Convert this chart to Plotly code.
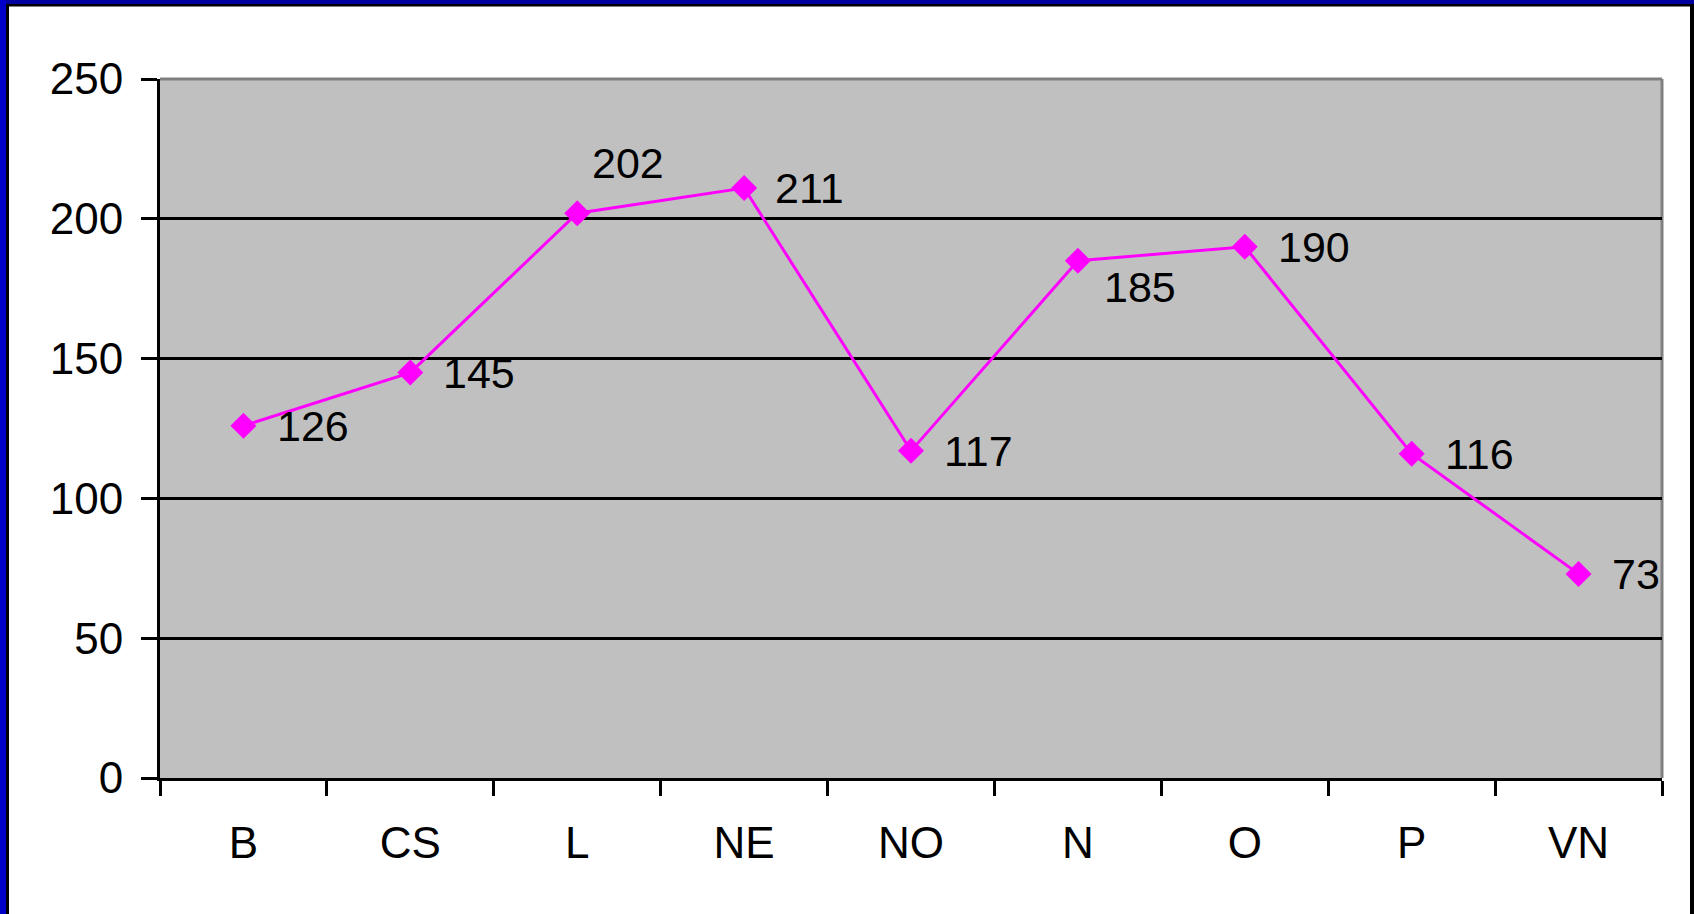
import plotly.graph_objects as go

categories = ["B", "CS", "L", "NE", "NO", "N", "O", "P", "VN"]
values = [126, 145, 202, 211, 117, 185, 190, 116, 73]
y_ticks = [0, 50, 100, 150, 200, 250]

# label offsets in pixels (style)
label_dx = [32, 31, 13, 29, 31, 24, 31, 31, 31]
label_dy = [0, 0, 50, 0, 0, -26, 0, 0, 0]

W, H = 1694, 914
L, R, T, B = 160, 32, 79, 136
PW = W - L - R
PH = H - T - B

def px_x(p):
    return (p - L) / PW

def px_y(p):
    return 1 - (p - T) / PH

FONT = "Liberation Sans, Arial, sans-serif"

fig = go.Figure()
fig.add_trace(go.Scatter(
    x=categories, y=values,
    mode="lines+markers",
    line=dict(color="#FF00FF", width=3),
    marker=dict(symbol="diamond", size=20, color="#FF00FF"),
    cliponaxis=False,
    showlegend=False,
))

annotations = []
for c, v, dx, dy in zip(categories, values, label_dx, label_dy):
    annotations.append(dict(
        x=c, y=v, xref="x", yref="y", text=str(v), showarrow=False,
        xanchor="left", yanchor="middle", xshift=dx, yshift=dy,
        font=dict(family=FONT, size=43, color="black"),
    ))

shapes = [
    dict(type="rect", xref="paper", yref="paper", x0=px_x(0), x1=px_x(W), y0=px_y(0), y1=px_y(4),
         fillcolor="#0000A0", line_width=0, layer="below"),
    dict(type="rect", xref="paper", yref="paper", x0=px_x(0), x1=px_x(6), y0=px_y(0), y1=px_y(H),
         fillcolor="#0000C8", line_width=0, layer="below"),
    dict(type="rect", xref="paper", yref="paper", x0=px_x(6), x1=px_x(W), y0=px_y(4), y1=px_y(6.5),
         fillcolor="black", line_width=0, layer="below"),
    dict(type="rect", xref="paper", yref="paper", x0=px_x(6), x1=px_x(9), y0=px_y(4), y1=px_y(H),
         fillcolor="black", line_width=0, layer="below"),
    dict(type="rect", xref="paper", yref="paper", x0=px_x(1690), x1=px_x(W), y0=px_y(4), y1=px_y(H),
         fillcolor="black", line_width=0, layer="below"),
    dict(type="line", xref="paper", yref="paper", x0=0, x1=1, y0=1, y1=1,
         line=dict(color="#808080", width=3), layer="below"),
    dict(type="line", xref="paper", yref="paper", x0=1, x1=1, y0=0, y1=1,
         line=dict(color="#808080", width=3), layer="below"),
]

fig.update_layout(
    width=W, height=H,
    margin=dict(l=L, r=R, t=T, b=B),
    paper_bgcolor="white",
    plot_bgcolor="#C0C0C0",
    font=dict(family=FONT, size=44, color="black"),
    shapes=shapes,
    annotations=annotations,
    xaxis=dict(
        type="category",
        tickson="boundaries",
        ticks="outside", ticklen=15, tickwidth=3, tickcolor="black",
        showline=True, linecolor="black", linewidth=3,
        showgrid=False,
        ticklabelstandoff=24,
        tickfont=dict(family=FONT, size=44),
        range=[-0.5, len(categories) - 0.5],
    ),
    yaxis=dict(
        range=[0, 250],
        tickvals=y_ticks,
        ticks="outside", ticklen=16, tickwidth=3, tickcolor="black",
        showline=True, linecolor="black", linewidth=3,
        showgrid=True, gridcolor="black", gridwidth=2.5,
        zeroline=False,
        ticklabelstandoff=9,
        tickfont=dict(family=FONT, size=44),
    ),
)

fig.write_html(
    "out.html",
    config={"displayModeBar": False},
    post_script="document.body.style.margin='0';document.body.style.overflow='hidden';",
)
